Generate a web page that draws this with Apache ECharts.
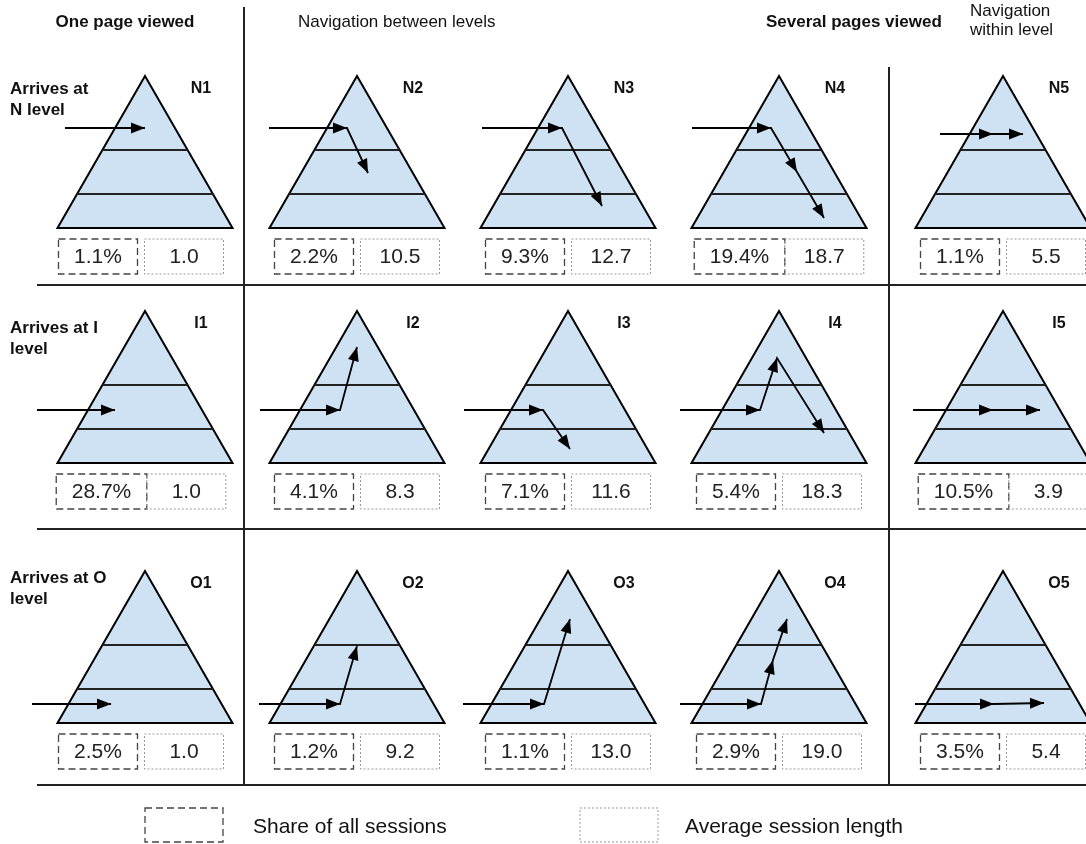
<!DOCTYPE html>
<html>
<head>
<meta charset="utf-8">
<script src="https://cdn.jsdelivr.net/npm/echarts@6/dist/echarts.min.js"></script>
<style>
html, body { margin: 0; background: #fff; }
#chart { width: 1086px; height: 844px; }
</style>
</head>
<body>
<div id="chart"></div>
<script>
"use strict";

// data
var rowKeys = ["N", "I", "O"];
var rowLabels = ["Arrives at\nN level", "Arrives at I\nlevel", "Arrives at O\nlevel"];
var headers = ["One page viewed", "Navigation between levels", "Several pages viewed", "Navigation\nwithin level"];
var legendLabels = ["Share of all sessions", "Average session length"];
var share = [
	[1.1, 2.2, 9.3, 19.4, 1.1],
	[28.7, 4.1, 7.1, 5.4, 10.5],
	[2.5, 1.2, 1.1, 2.9, 3.5]
];
var sessionLength = [
	[1.0, 10.5, 12.7, 18.7, 5.5],
	[1.0, 8.3, 11.6, 18.3, 3.9],
	[1.0, 9.2, 13.0, 19.0, 5.4]
];
// arrow paths, offsets from the pyramid apex: [dx, dy, arrowhead]
var arrows = [
	[
		[[-80, 52, 0], [0, 52, 1]],
		[[-88, 52, 0], [-10, 52, 1], [11, 97, 1]],
		[[-86, 52, 0], [-6, 52, 1], [34, 130, 1]],
		[[-87, 52, 0], [-8, 52, 1], [18, 96, 1], [45, 142, 1]],
		[[-63, 58, 0], [-10, 58, 1], [20, 58, 1]]
	],
	[
		[[-108, 99, 0], [-30, 99, 1]],
		[[-97, 99, 0], [-17, 99, 1], [0, 36, 1]],
		[[-104, 99, 0], [-25, 99, 1], [2, 138, 1]],
		[[-99, 99, 0], [-19, 99, 1], [-2, 47, 1], [45, 122, 1]],
		[[-90, 99, 0], [-10, 99, 1], [37, 99, 1]]
	],
	[
		[[-113, 133, 0], [-34, 133, 1]],
		[[-98, 133, 0], [-17, 133, 1], [0, 75, 1]],
		[[-105, 133, 0], [-24, 133, 1], [2, 48, 1]],
		[[-99, 133, 0], [-18, 133, 1], [-6, 89, 1], [8, 48, 1]],
		[[-88, 133, 0], [-9, 133, 1], [41, 132, 1]]
	]
];

// layout
var W = 1086, H = 844;
var colX = [145, 357, 568, 779, 1003];
var rowY = [76, 311, 571];
var pyrH = 152, pyrHalf = 87.5, levelDy = [74, 118];
var sepY = [285, 529, 785];
var rowLabelY = [89, 328, 578];
var FONT = '"Liberation Sans", Arial, sans-serif';
var BLUE = "#cfe2f3";

var measure = document.createElement("canvas").getContext("2d");
measure.font = "21px " + FONT;

var cells = [];
for (var r = 0; r < rowKeys.length; r++) {
	for (var c = 0; c < colX.length; c++) {
		cells.push([c, r]);
	}
}

function arrowHead(tip, from) {
	var ux = tip[0] - from[0], uy = tip[1] - from[1];
	var len = Math.sqrt(ux * ux + uy * uy) || 1;
	ux /= len; uy /= len;
	var L = 14, w = 5.5;
	var bx = tip[0] - ux * L, by = tip[1] - uy * L;
	return {
		type: "polygon",
		shape: { points: [tip, [bx - uy * w, by + ux * w], [bx + uy * w, by - ux * w]] },
		style: { fill: "#000" }
	};
}

function renderCell(params, api) {
	var c = api.value(0), r = api.value(1);
	var P = function (dx, dy) { return api.coord([colX[c] + dx, rowY[r] + dy]); };
	var kids = [];

	kids.push({
		type: "polygon",
		shape: { points: [P(0, 0), P(-pyrHalf, pyrH), P(pyrHalf, pyrH)] },
		style: { fill: BLUE, stroke: "#000", lineWidth: 2 }
	});
	levelDy.forEach(function (dy) {
		var hw = pyrHalf * dy / pyrH;
		var a = P(-hw, dy), b = P(hw, dy);
		kids.push({
			type: "line",
			shape: { x1: a[0], y1: a[1], x2: b[0], y2: b[1] },
			style: { stroke: "#222", lineWidth: 2 }
		});
	});

	var lp = P(56, 13);
	kids.push({
		type: "text",
		style: { text: rowKeys[r] + (c + 1), x: lp[0], y: lp[1], font: "bold 16px " + FONT, fill: "#111", align: "center", verticalAlign: "middle" }
	});

	// arrows
	var path = arrows[r][c];
	var pts = path.map(function (p) { return P(p[0], p[1]); });
	kids.push({
		type: "polyline",
		shape: { points: pts },
		style: { stroke: "#000", lineWidth: 1.8, fill: null }
	});
	for (var i = 1; i < path.length; i++) {
		if (path[i][2]) {
			kids.push(arrowHead(pts[i], pts[i - 1]));
		}
	}

	// value boxes
	var sTxt = share[r][c].toFixed(1) + "%";
	var lTxt = sessionLength[r][c].toFixed(1);
	var w1 = Math.max(79, measure.measureText(sTxt).width + 31);
	var gap = Math.max(0, 7 - (w1 - 79));
	var total = w1 + gap + 79;
	var left = -total / 2 + (c === 0 ? -4 : 0);
	var top = pyrH + 11, bh = 35;
	var b1 = P(left, top), b2 = P(left + w1 + gap, top);
	kids.push({
		type: "rect",
		shape: { x: b1[0], y: b1[1], width: w1, height: bh },
		style: { fill: null, stroke: "#444", lineWidth: 1.3, lineDash: [7, 4] }
	});
	kids.push({
		type: "rect",
		shape: { x: b2[0], y: b2[1], width: 79, height: bh },
		style: { fill: null, stroke: "#999", lineWidth: 1, lineDash: [2, 2] }
	});
	kids.push({
		type: "text",
		style: { text: sTxt, x: b1[0] + w1 / 2, y: b1[1] + bh / 2 + 1, font: "21px " + FONT, fill: "#222", align: "center", verticalAlign: "middle" }
	});
	kids.push({
		type: "text",
		style: { text: lTxt, x: b2[0] + 79 / 2, y: b2[1] + bh / 2 + 1, font: "21px " + FONT, fill: "#222", align: "center", verticalAlign: "middle" }
	});

	return { type: "group", children: kids };
}

function renderFrame(params, api) {
	var kids = [];
	var line = function (x1, y1, x2, y2) {
		var a = api.coord([x1, y1]), b = api.coord([x2, y2]);
		kids.push({ type: "line", shape: { x1: a[0], y1: a[1], x2: b[0], y2: b[1] }, style: { stroke: "#222", lineWidth: 2 } });
	};
	var text = function (t, x, y, font, align) {
		var p = api.coord([x, y]);
		kids.push({ type: "text", style: { text: t, x: p[0], y: p[1], font: font, fill: "#111", align: align, verticalAlign: "middle", lineHeight: 19 } });
	};

	sepY.forEach(function (y) { line(37, y, W, y); });
	line(244, 7, 244, sepY[2]);
	line(889, 67, 889, sepY[2]);

	text(headers[0], 125, 22, "bold 17px " + FONT, "center");
	text(headers[1], 298, 22, "17px " + FONT, "left");
	text(headers[2], 766, 22, "bold 17px " + FONT, "left");
	text(headers[3], 970, 21, "17px " + FONT, "left");

	rowLabels.forEach(function (t, i) {
		var p = api.coord([10, rowLabelY[i] - 10]);
		kids.push({ type: "text", style: { text: t, x: p[0], y: p[1], font: "bold 17px " + FONT, fill: "#111", align: "left", verticalAlign: "top", lineHeight: 21 } });
	});

	// legend
	var l1 = api.coord([145, 808]), l2 = api.coord([580, 808]);
	kids.push({ type: "rect", shape: { x: l1[0], y: l1[1], width: 78, height: 34 }, style: { fill: null, stroke: "#444", lineWidth: 1.3, lineDash: [7, 4] } });
	kids.push({ type: "rect", shape: { x: l2[0], y: l2[1], width: 78, height: 34 }, style: { fill: null, stroke: "#999", lineWidth: 1, lineDash: [2, 2] } });
	text(legendLabels[0], 253, 827, "21px " + FONT, "left");
	text(legendLabels[1], 685, 827, "21px " + FONT, "left");

	return { type: "group", children: kids };
}

var chart = echarts.init(document.getElementById("chart"));
chart.setOption({
	animation: false,
	backgroundColor: "#fff",
	grid: { left: 0, right: 0, top: 0, bottom: 0 },
	xAxis: { type: "value", min: 0, max: W, show: false },
	yAxis: { type: "value", min: 0, max: H, inverse: true, show: false },
	series: [
		{ type: "custom", renderItem: renderFrame, data: [[0, 0]], clip: false, silent: true },
		{ type: "custom", renderItem: renderCell, data: cells, clip: false, silent: true }
	]
});
</script>
</body>
</html>
